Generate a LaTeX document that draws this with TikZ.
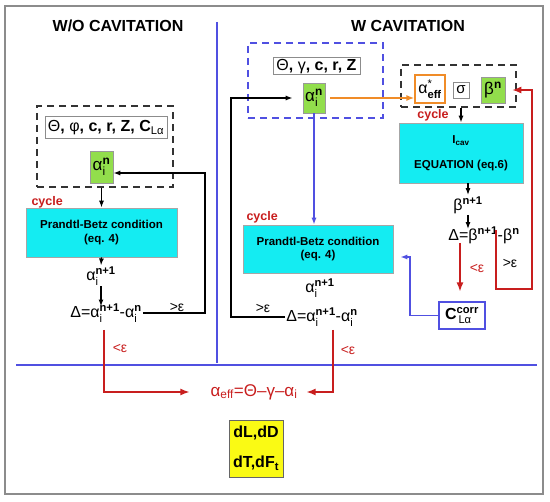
\documentclass[tikz,border=0pt]{standalone}
\usepackage{fontspec}
\usepackage{amsmath}
\setmainfont{Liberation Sans}
\usetikzlibrary{arrows.meta,calc}
\definecolor{myred}{RGB}{200,30,30}
\definecolor{myblue}{RGB}{80,80,225}
\definecolor{myorange}{RGB}{240,140,40}
\definecolor{mygreen}{RGB}{146,222,76}
\definecolor{mycyan}{RGB}{20,236,242}
\definecolor{myyellow}{RGB}{250,250,20}
\newcommand\sbsp[2]{$_{\text{\mdseries #1}}^{\text{\bfseries #2}}$}
\newcommand\spb[1]{$^{\text{\bfseries #1}}$}
\newcommand\sbb[1]{$_{\text{#1}}$}
\begin{document}
\begin{tikzpicture}[x=1pt,y=-1pt,
  arr/.style={-{Latex[length=7pt,width=5pt]},line width=1.3pt,black},
  redarr/.style={-{Latex[length=9pt,width=7pt]},line width=1.3pt,myred},
  bluearr/.style={-{Latex[length=7pt,width=5pt]},line width=1.3pt,myblue},
  orarr/.style={-{Latex[length=8pt,width=6pt]},line width=1.4pt,myorange},
  dashbox/.style={draw=black!80,line width=1.2pt,dash pattern=on 7pt off 5pt,inner sep=0pt},
  ttl/.style={font=\fontsize{16}{18}\selectfont\bfseries},
  pbox/.style={draw=black!45,line width=1pt,fill=white,inner sep=1pt,font=\fontsize{16}{18}\selectfont\bfseries},
  gbox/.style={draw=black!40,line width=0.6pt,fill=mygreen,inner sep=0pt,font=\fontsize{17}{18}\selectfont},
  cbox/.style={draw=black!35,line width=0.6pt,fill=mycyan,inner sep=0pt,align=center,font=\fontsize{11.5}{13.5}\selectfont\bfseries},
  cyc/.style={text=myred,font=\fontsize{12.5}{14}\selectfont\bfseries},
  expr/.style={inner sep=1pt,font=\fontsize{16}{18}\selectfont},
  eps/.style={inner sep=0pt,font=\fontsize{14}{16}\selectfont}]
\useasboundingbox (0,0) rectangle (550,502);
% frame and separators
\draw[black!45,line width=1.2pt] (5,6) rectangle (543,494);
\coordinate (vTop) at (217,22);
\coordinate (vBot) at (217,363);
\coordinate (hL) at (16,365);
\coordinate (hR) at (537,365);
\draw[myblue,line width=1.2pt] (vTop) -- (vBot);
\draw[myblue,line width=1.2pt] (hL) -- (hR);
% titles
\node[ttl] (tL) at (118,26) {W/O CAVITATION};
\node[ttl] (tR) at (408,26) {W CAVITATION};

% ---------------- left side ----------------
\node[dashbox,minimum width=136pt,minimum height=81pt] (dashL) at (105,146.5) {};
\node[pbox,minimum width=122pt,minimum height=22pt] (parL) at (106,128) {{\mdseries Θ}, {\mdseries φ}, c, r, Z, C$_{\text{\mdseries Lα}}$};
\node[gbox,minimum width=23pt,minimum height=32pt] (alphaL) at (101.5,167) {α\sbsp{i}{n}};
\node[cyc,anchor=west] (cycL) at (28,202) {cycle};
\node[cbox,minimum width=151pt,minimum height=49pt] (pbL) at (101.5,232.5) {Prandtl-Betz condition\\(eq. 4)};
\node[expr] (an1L) at (101,276) {α\sbsp{i}{n+1}};
\node[expr] (deltaL) at (106,313) {Δ=α\sbsp{i}{n+1}-α\sbsp{i}{n}};
\node[eps] (gtL) at (177,307) {>ε};
\node[eps,text=myred] (ltL) at (120,348) {<ε};
\coordinate (fbL) at (205,173);
\coordinate (rL) at (104,330);

\draw[arr] (dashL.south -| alphaL) -- (pbL.north -| alphaL);
\draw[arr] (pbL.south -| alphaL) -- (an1L.north);
\draw[arr] (an1L.south) -- ($(deltaL.north -| an1L)+(0,4)$);
\draw[arr] (deltaL.east) -| (fbL) -- ([yshift=-6pt]alphaL.east);

% ---------------- bottom ----------------
\node[expr,text=myred,font=\fontsize{17}{18}\selectfont] (form) at (254,392) {α\sbb{eff}=Θ–γ–α\sbb{i}};
\node[draw=black!60,line width=0.8pt,fill=myyellow,minimum width=54pt,minimum height=57pt,inner sep=0pt,align=center,font=\fontsize{16}{30}\selectfont\bfseries] (res) at (256,448.5) {dL,dD\\dT,dF\sbb{t}};
\draw[redarr] (rL) |- ([xshift=-20pt]form.west);

% ---------------- right side ----------------
\node[dashbox,draw=myblue,minimum width=135pt,minimum height=75pt] (dashR) at (315.5,80.5) {};
\node[pbox,minimum width=87pt,minimum height=17pt] (parR) at (316.5,66.5) {{\mdseries Θ}, {\mdseries γ}, c, r, Z};
\node[gbox,minimum width=22pt,minimum height=30pt] (alphaR) at (314,98) {α\sbsp{i}{n}};
\coordinate (fbR) at (231,98);

\node[dashbox,minimum width=115pt,minimum height=42pt] (dashR2) at (458.5,86) {};
\node[draw=myorange,line width=1.2pt,fill=white,minimum width=30pt,minimum height=28pt,inner sep=0pt,font=\fontsize{16}{18}\selectfont] (aeff) at (430,89) {α$_{\text{\bfseries eff}}^{\text{*}}$};
\node[draw=black!45,line width=0.8pt,fill=white,minimum width=16pt,minimum height=16pt,inner sep=0pt,font=\fontsize{15}{16}\selectfont] (sig) at (461,90) {σ};
\node[gbox,minimum width=24pt,minimum height=26pt] (betaR) at (493,90) {β\spb{n}};
\node[cyc] (cycR2) at (433,115) {cycle};
\node[cbox,minimum width=124pt,minimum height=60pt,font=\fontsize{11.5}{25}\selectfont\bfseries] (eqR) at (461,153) {I\sbb{cav}\\EQUATION (eq.6)};
\node[expr] (bn1) at (468,205) {β\spb{n+1}};
\node[expr] (deltaB) at (484,235) {Δ=β\spb{n+1}-β\spb{n}};
\node[eps,text=myred] (ltB) at (477,268) {<ε};
\node[eps] (gtB) at (510,263) {>ε};
\node[draw=myblue,line width=1.2pt,fill=white,minimum width=46pt,minimum height=27pt,inner sep=0pt,font=\fontsize{16}{18}\selectfont\bfseries] (ccorr) at (462,315.5) {C$_{\text{\mdseries\,Lα}}^{\text{corr}}$};

\node[cyc,anchor=west] (cycR) at (243,217) {cycle};
\node[cbox,minimum width=150pt,minimum height=48pt] (pbR) at (318,249) {Prandtl-Betz condition\\(eq. 4)};
\node[expr] (an1R) at (320,288) {α\sbsp{i}{n+1}};
\node[expr] (deltaR) at (322,317) {Δ=α\sbsp{i}{n+1}-α\sbsp{i}{n}};
\node[eps] (gtR) at (263,308) {>ε};
\node[eps,text=myred] (ltR) at (348,350) {<ε};

\coordinate (rR) at (333,330);
\coordinate (rB) at (460,243);
\coordinate (rB2) at (496,230);
\coordinate (rB3) at (532,289);
\coordinate (bc) at (410,257);

\draw[arr] (deltaR.west) -| (fbR) -- ([xshift=-10pt]alphaR.west);
\draw[orarr] ([xshift=5pt]alphaR.east) -- (aeff.west |- alphaR.east);
\draw[bluearr] (alphaR.south) -- (pbR.north -| alphaR);
\draw[arr] (dashR2.south -| sig) -- (eqR.north -| sig);
\draw[arr] (eqR.south -| bn1) -- (bn1.north);
\draw[arr] (bn1.south) -- ($(deltaB.north -| bn1)+(0,4)$);
\draw[redarr] (rB) -- ([yshift=10pt]ccorr.north -| rB);
\draw[redarr] (rB2) |- (rB3) |- ([xshift=7pt]betaR.east);
\draw[bluearr] (ccorr.west) -| (bc) -- ([xshift=7pt]pbR.east |- bc);
\draw[redarr] (rR) |- ([xshift=8pt]form.east);
\end{tikzpicture}
\end{document}
